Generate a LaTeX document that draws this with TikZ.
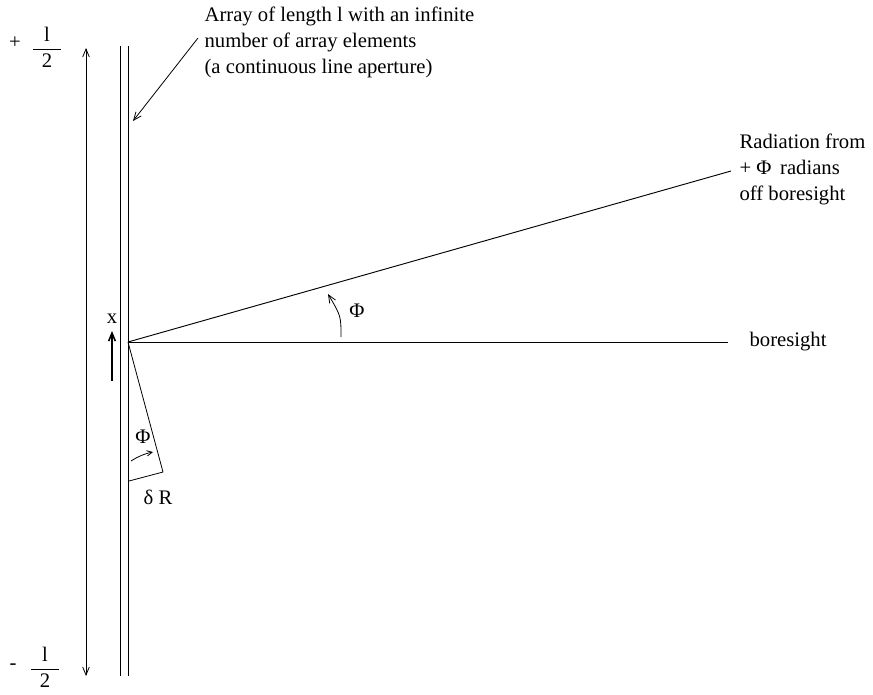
\documentclass[tikz,border=0pt]{standalone}
\usepackage{fontspec}
\setmainfont{Liberation Serif}
\usepackage{amsmath}
\usetikzlibrary{arrows.meta}

\begin{document}
\begin{tikzpicture}[
  x=0.75pt, y=-0.75pt,
  font=\fontsize{15.5}{19.5}\selectfont,
  apline/.style={line width=0.6pt},
  apray/.style={line width=0.7pt},
  apedge/.style={-{Straight Barb[length=6pt,width=5pt]}, line width=0.6pt},
  aplab/.style={inner sep=1pt, align=left},
  aplim/.style={inner sep=0pt}
]
\useasboundingbox (0,0) rectangle (873,694);

% Array (double line) and its length arrow
\coordinate (arrTopL) at (120,46);
\coordinate (arrBotL) at (120,676);
\coordinate (arrTopR) at (128,46);
\coordinate (arrBotR) at (128,676);
\coordinate (lenTop) at (86,48);
\coordinate (lenBot) at (86,676);
\draw[apline] (arrTopL) -- (arrBotL);
\draw[apline] (arrTopR) -- (arrBotR);
\draw[apedge, {Straight Barb[length=6pt,width=5pt]}-{Straight Barb[length=6pt,width=5pt]}] (lenTop) -- (lenBot);

% Limits +l/2 and -l/2
\node[aplim] (plus) at (15,43) {+};
\node[aplim] (topfrac) at (47,47) {$\dfrac{\hspace{0.55em}\text{l}\hspace{0.55em}}{\text{2}}$};
\node[aplim] (minus) at (13,667) {-};
\node[aplim] (botfrac) at (45,667) {$\dfrac{\hspace{0.55em}\text{l}\hspace{0.55em}}{\text{2}}$};

% Array annotation
\node[aplab, anchor=north west] (arrlab) at (203,5) {Array of length l with an infinite\\number of array elements\\(a continuous line aperture)};
\coordinate (annStart) at (198,38);
\coordinate (annEnd) at (133,121);
\draw[apedge] (annStart) -- (annEnd);

% Boresight and radiation rays
\coordinate (O) at (128,342);
\coordinate (boreEnd) at (728,342);
\coordinate (radEnd) at (731,171);
\draw[apray] (O) -- (boreEnd);
\draw[apray] (O) -- (radEnd);
\node[aplab, anchor=west] (borelab) at (748,342) {boresight};
\node[aplab, anchor=west] (radlab) at (738,169) {Radiation from\\+ Φ\, radians\\off boresight};

% Angle between rays
\coordinate (phiA) at (341,337);
\coordinate (phiB) at (328,294);
\draw[apedge] (phiA) .. controls (341,316) .. (phiB);
\node[aplab] (phiTop) at (357,311) {Φ};

% Element position x
\coordinate (xTail) at (112,381);
\coordinate (xHead) at (112,331);
\draw[apedge, line width=1.2pt] (xTail) -- (xHead);
\node[aplab] (xlab) at (112,319) {x};

% Path difference triangle
\coordinate (triA) at (163,472);
\coordinate (triB) at (129,481);
\draw[apline] (O) -- (triA) -- (triB);
\node[aplab] (phiLow) at (143,437) {Φ};
\coordinate (smTail) at (131,461);
\coordinate (smHead) at (153,452);
\draw[apedge, -{Straight Barb[length=4pt,width=4pt]}] (smTail) to[bend left=10] (smHead);
\node[aplab] (dR) at (158,497) {δ R};
\end{tikzpicture}
\end{document}
